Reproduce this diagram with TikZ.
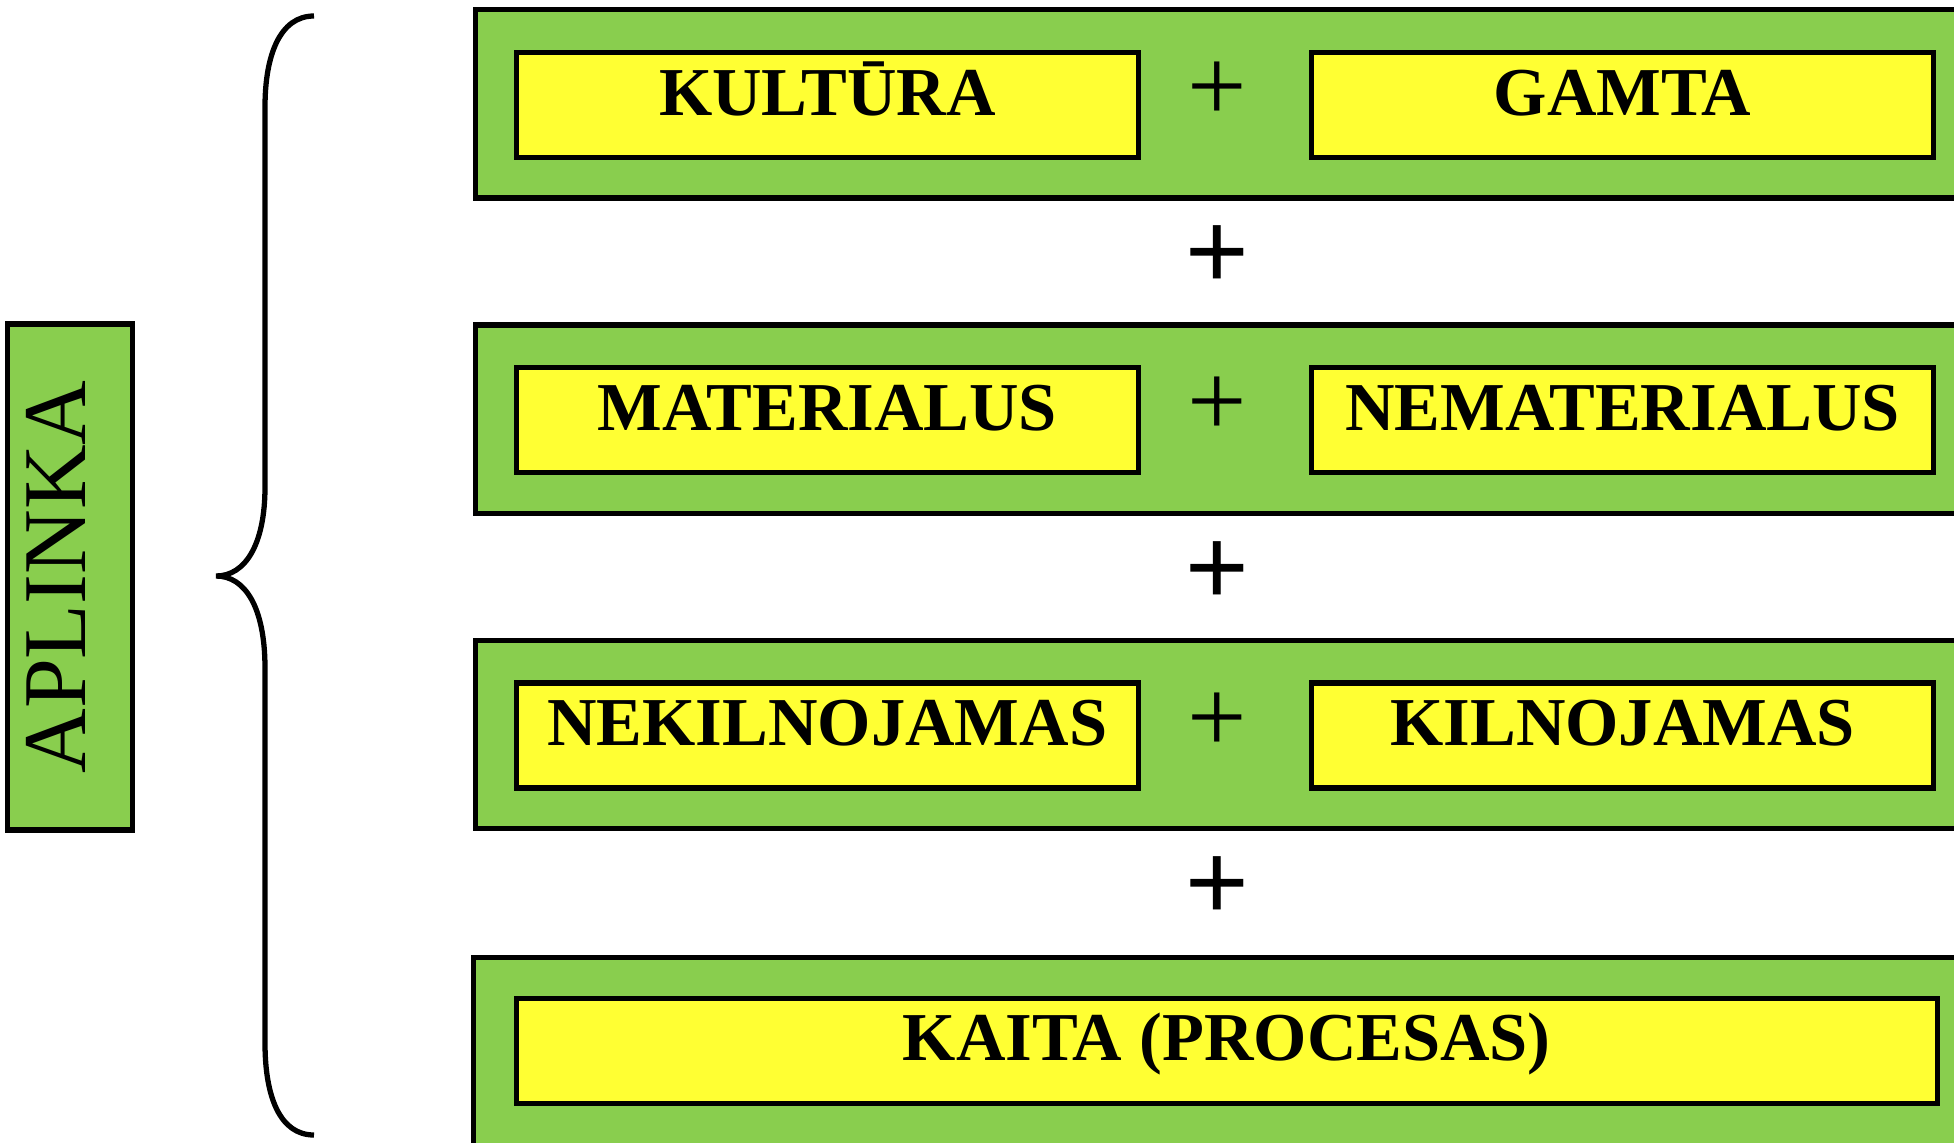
\documentclass[tikz,border=0pt]{standalone}
\usepackage{fontspec}
\setmainfont{Liberation Serif}
\newfontfamily\plusfont{Liberation Sans}
\usetikzlibrary{matrix, backgrounds}
\definecolor{leafgreen}{RGB}{137,206,78}
\definecolor{lemon}{RGB}{255,255,51}

\begin{document}
\begin{tikzpicture}[
  gbox/.style={draw, line width=1.5pt, fill=leafgreen},
  ybox/.style={draw, line width=1.5pt, fill=lemon, minimum width=6.22cm, minimum height=1.05cm, inner sep=0pt, text height=13.6pt, text depth=7.8pt, font=\fontsize{19.5}{23}\bfseries\selectfont},
  pluscell/.style={minimum width=1.52cm, minimum height=1.05cm, inner sep=0pt, text height=15pt, text depth=5.5pt, font=\fontsize{30}{36}\selectfont},
  plusrow/.style={text height=17.5pt, text depth=2.5pt, font=\plusfont\fontsize{31}{36}\selectfont}]
\useasboundingbox (0,0) rectangle (19.54,-11.43);
\matrix (M)[matrix of nodes, anchor=north west, inner sep=0pt, row sep=0.5cm, column sep=0pt, nodes={anchor=center, pluscell}] at (5.13,-0.49) {
|[ybox]| KULTŪRA & + &[0.16cm] |[ybox]| GAMTA \\
& |[plusrow]| + & \\
|[ybox]| MATERIALUS & + & |[ybox]| NEMATERIALUS \\
& |[plusrow]| + & \\
|[ybox]| NEKILNOJAMAS & + & |[ybox]| KILNOJAMAS \\
& |[plusrow]| + & \\
};
\node[ybox, minimum width=14.21cm, anchor=north west] (kaita) at ([yshift=-2.05cm]M-5-1.south west) {KAITA (PROCESAS)};
\begin{scope}[on background layer]
\foreach \r in {1,3,5}
  \draw[gbox] ([shift={(-0.38,0.40)}]M-\r-1.north west) rectangle ([shift={(0.6,-0.38)}]M-\r-3.south east);
\draw[gbox] ([shift={(-0.40,0.38)}]kaita.north west) rectangle ([shift={(0.6,-0.6)}]kaita.south east);
\end{scope}
\node[gbox, rotate=90, minimum width=5.06cm, minimum height=1.255cm, inner sep=0pt, text height=18pt, text depth=9pt, font=\fontsize{25.5}{31}\selectfont] (aplinka) at (0.70,-5.77) {APLINKA};
\draw[line width=1.5pt] (3.14,-0.16) .. controls (2.80,-0.16) and (2.65,-0.55) .. (2.65,-1.07) -- (2.65,-4.87) .. controls (2.65,-5.45) and (2.45,-5.76) .. (2.16,-5.76) .. controls (2.45,-5.76) and (2.65,-6.07) .. (2.65,-6.68) -- (2.65,-10.43) .. controls (2.65,-10.97) and (2.80,-11.35) .. (3.14,-11.35);
\end{tikzpicture}
\end{document}
